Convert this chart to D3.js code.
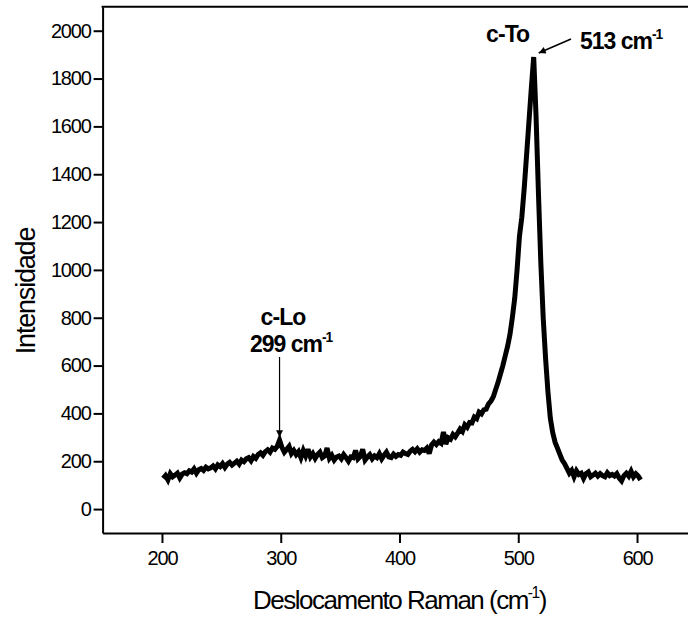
<!DOCTYPE html>
<html>
<head>
<meta charset="utf-8">
<script src="https://cdn.jsdelivr.net/npm/d3@7"></script>
<style>
  body { margin: 0; background: #fff; }
  svg { display: block; }
  text { font-family: "Liberation Sans", Arial, sans-serif; fill: #000; }
</style>
</head>
<body>
<svg id="chart" width="688" height="620"></svg>
<script>
// Raman spectrum, intensity sampled every 2 cm^-1 from 201 to 603 cm^-1
const shiftStart = 201;
const shiftEnd = 603;
const shiftStep = 2;
const intensity = [
  128, 140, 122, 148, 135, 142, 150, 130, 146, 152,
  148, 160, 155, 168, 150, 165, 170, 162, 175, 168,
  172, 180, 168, 185, 178, 190, 174, 188, 195, 184,
  192, 200, 188, 205, 198, 210, 215, 202, 220, 212,
  228, 235, 225, 240, 248, 238, 255, 250, 262, 288,
  258, 238, 250, 262, 232, 245, 228, 240, 215, 245,
  222, 250, 218, 232, 212, 228, 238, 215, 222, 255,
  212, 225, 205, 218, 222, 210, 228, 215, 200, 218,
  215, 245, 210, 220, 250, 205, 218, 228, 210, 222,
  215, 232, 210, 225, 238, 218, 215, 230, 220, 228,
  225, 238, 232, 228, 242, 250, 240, 252, 238, 248,
  245, 255, 232, 268, 280, 270, 282, 275, 322, 272,
  298, 292, 312, 302, 318, 335, 325, 352, 342, 362,
  360, 385, 378, 405, 398, 415, 418, 440, 452, 470,
  500, 530, 565, 600, 640, 680, 730, 800, 880, 1000,
  1140, 1220, 1340, 1480, 1620, 1760, 1890, 1640, 1320, 1030,
  800, 630, 490, 380, 320, 280, 255, 230, 205,
  190, 170, 150, 162, 135, 160, 145, 150, 128, 148,
  155, 135, 142, 150, 138, 148, 140, 135, 152, 140,
  145, 138, 148, 130, 118, 140, 150, 138, 158, 135,
  148, 138, 122
];
const ramanShift = d3.range(shiftStart, shiftEnd + 1, shiftStep);
const spectrum = ramanShift.map((s, i) => ({ shift: s, value: intensity[i] }));

// axis ticks
const xMajorTicks = [200, 300, 400, 500, 600];
const xMinorTicks = [150, 250, 350, 450, 550, 650];
const yMajorTicks = [0, 200, 400, 600, 800, 1000, 1200, 1400, 1600, 1800, 2000];
const yMinorTicks = [-100, 100, 300, 500, 700, 900, 1100, 1300, 1500, 1700, 1900];

// assigned bands
const bands = [
  { name: "c-Lo", shift: 299, value: 288 },
  { name: "c-To", shift: 513, value: 1890 }
];

const svg = d3.select("#chart");
const plotLeft = 102.6, plotRight = 696.4, plotTop = 6.8, plotBottom = 533;

const x = d3.scaleLinear().domain([150, 650]).range([plotLeft, plotRight]);
const y = d3.scaleLinear().domain([-100, 2100]).range([plotBottom, plotTop]);

// frame (top edge)
svg.append("line")
  .attr("x1", plotLeft - 1).attr("x2", plotRight)
  .attr("y1", plotTop).attr("y2", plotTop)
  .attr("stroke", "#000").attr("stroke-width", 2);

// y axis
const yAxisG = svg.append("g").attr("transform", `translate(${plotLeft},0)`);
yAxisG.call(d3.axisLeft(y).tickValues(yMinorTicks).tickSize(5).tickSizeOuter(0).tickFormat(""));
yAxisG.call(d3.axisLeft(y).tickValues(yMajorTicks).tickSize(9).tickSizeOuter(0).tickPadding(3).tickFormat(d3.format("d")));

// x axis
const xAxisG = svg.append("g").attr("transform", `translate(0,${plotBottom})`);
xAxisG.call(d3.axisBottom(x).tickValues(xMinorTicks).tickSize(6).tickSizeOuter(0).tickFormat(""));
xAxisG.call(d3.axisBottom(x).tickValues(xMajorTicks).tickSize(10).tickSizeOuter(0).tickPadding(8).tickFormat(d3.format("d")));

svg.selectAll(".domain").attr("stroke", "#000").attr("stroke-width", 2);
svg.selectAll(".tick line").attr("stroke", "#000").attr("stroke-width", 2);
svg.selectAll(".tick text")
  .attr("font-family", "Liberation Sans, Arial, sans-serif")
  .attr("font-size", 20)
  .attr("letter-spacing", "-1.2px")
  .attr("fill", "#000");

// spectrum line
const line = d3.line().x(d => x(d.shift)).y(d => y(d.value));
svg.append("path")
  .datum(spectrum)
  .attr("d", line)
  .attr("fill", "none")
  .attr("stroke", "#000")
  .attr("stroke-width", 5)
  .attr("stroke-linejoin", "miter")
  .attr("stroke-miterlimit", 3);

// arrowhead
svg.append("defs").append("marker")
  .attr("id", "head")
  .attr("viewBox", "0 0 10 10")
  .attr("refX", 10).attr("refY", 5)
  .attr("markerWidth", 10).attr("markerHeight", 7)
  .attr("markerUnits", "userSpaceOnUse")
  .attr("orient", "auto")
  .append("path").attr("d", "M0,0L10,5L0,10Z").attr("fill", "#000");

function label(xp, yp, parts, size, weight, anchor) {
  const t = svg.append("text")
    .attr("x", xp).attr("y", yp)
    .attr("font-size", size)
    .attr("font-weight", weight)
    .attr("text-anchor", anchor || "start");
  parts.forEach(p => {
    const s = t.append("tspan").text(p.text);
    if (p.sup) s.attr("font-size", size * 0.6).attr("dy", -size * 0.42);
    if (p.after) s.attr("dy", size * 0.42);
  });
  return t;
}

// c-Lo band
const lo = bands[0];
label(283, 325, [{ text: lo.name }], 23, "bold", "middle").attr("letter-spacing", "-0.9px");
label(250, 351.7, [{ text: lo.shift + " cm" }, { text: "-1", sup: true }], 23, "bold").attr("letter-spacing", "-1px");
svg.append("line")
  .attr("x1", x(lo.shift)).attr("x2", x(lo.shift))
  .attr("y1", 357).attr("y2", y(lo.value) - 3)
  .attr("stroke", "#000").attr("stroke-width", 1.2)
  .attr("marker-end", "url(#head)");

// c-To band
const to = bands[1];
label(486, 42, [{ text: to.name }], 23, "bold").attr("letter-spacing", "-0.9px");
label(580, 49, [{ text: to.shift + " cm" }, { text: "-1", sup: true }], 23, "bold").attr("letter-spacing", "-1px");
svg.append("line")
  .attr("x1", 571).attr("y1", 39)
  .attr("x2", x(to.shift) + 5).attr("y2", y(to.value) - 4)
  .attr("stroke", "#000").attr("stroke-width", 1.5)
  .attr("marker-end", "url(#head)");

// axis titles
label((plotLeft + plotRight) / 2, 609, [{ text: "Deslocamento Raman (cm" }, { text: "-1", sup: true }, { text: ")", after: true }], 26, "normal", "middle")
  .attr("letter-spacing", "-1.5px");
label(0, 0, [{ text: "Intensidade" }], 27, "normal", "middle")
  .attr("letter-spacing", "-1.2px")
  .attr("transform", "translate(35,291) rotate(-90)");
</script>
</body>
</html>
